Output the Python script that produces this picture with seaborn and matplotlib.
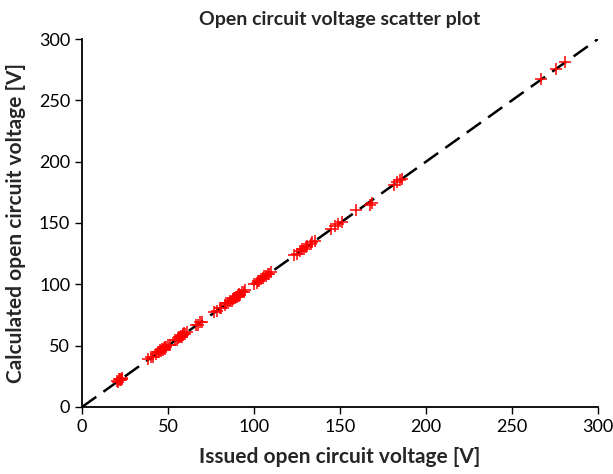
import matplotlib
matplotlib.use("Agg")
import matplotlib.pyplot as plt
import seaborn as sns
import pandas as pd

issued = [20.5, 21, 21.5, 22, 22.3, 22.8, 23, 23.5,
          38.5, 40, 41,
          43, 44, 45, 45.5, 46, 46.5, 47, 47.5, 48, 48.5, 49, 50, 51,
          54, 55, 56, 56.5, 57, 57.5, 58, 58.5, 59, 59.5, 60, 61,
          66.5, 67.5, 68.5, 70,
          77, 78.5, 80, 81,
          83, 84, 85, 86, 87, 88, 88.5, 89, 89.5, 90, 90.5, 91, 91.5, 92, 93, 94, 95,
          100, 101.5, 102.5, 103, 104, 105, 106, 107, 108, 109, 110,
          123.5, 125, 127, 128, 129, 130, 131, 133, 134, 135.5,
          145, 147, 149, 151,
          159.5,
          167.5, 168.5,
          181.5, 183, 185, 186,
          267, 275.5, 281]
calculated = [21.5, 20.5, 22.5, 21.8, 23, 22, 23.8, 22.8,
              38.8, 40.5, 40.6,
              43.5, 44.5, 44.6, 46.2, 45.8, 47, 46.5, 48.2, 47.6, 49, 48.7, 50.4, 50.5,
              54.6, 54.5, 56.4, 57.2, 56.8, 58, 57.4, 59.2, 58.6, 60, 59.5, 61.3,
              66.8, 67.2, 68.9, 69.6,
              77.6, 78.2, 80.6, 80.7,
              83.5, 84.4, 84.8, 86.4, 86.8, 88.3, 88.9, 88.8, 90, 89.7, 91, 90.8, 92, 91.7, 93.4, 93.8, 95.3,
              100.5, 101.2, 103, 102.7, 104.4, 104.8, 106.4, 106.8, 108.3, 108.8, 110.3,
              123.8, 124.8, 127.5, 128.4, 128.8, 130.5, 131.4, 132.8, 134.4, 135.7,
              145.4, 147.6, 148.8, 150.9,
              160.2,
              164.8, 166.5,
              181.2, 183.6, 184.8, 186.2,
              267.5, 275.3, 281.4]
diag = [0, 300]
ticks = [0, 50, 100, 150, 200, 250, 300]

sns.set_style("white")
plt.rcParams['font.family'] = ['Lato', 'DejaVu Sans']

df = pd.DataFrame({"issued": issued, "calculated": calculated})

fig = plt.figure(figsize=(6.13, 4.74), dpi=100)
ax = fig.add_axes([0.1338, 0.1414, 0.8417, 0.7763])

sns.lineplot(x=diag, y=diag, ax=ax, color="black", linewidth=1.8,
             dashes=False, linestyle=(0, (7, 3.5)), zorder=1)
sns.scatterplot(data=df, x="issued", y="calculated", ax=ax, marker="+",
                color="red", s=65, linewidth=1.1, zorder=2)

ax.set_xlim(0, 300)
ax.set_ylim(0, 300)
ax.set_xticks(ticks)
ax.set_yticks(ticks)
ax.tick_params(axis="both", direction="out", length=5, width=1, labelsize=13,
               bottom=True, left=True, colors="black")
for s in ["top", "right"]:
    ax.spines[s].set_visible(False)
for s in ["left", "bottom"]:
    ax.spines[s].set_color("black")
    ax.spines[s].set_linewidth(1.3)

ax.set_xlabel("Issued open circuit voltage [V]", fontsize=15, fontweight="bold", labelpad=9)
ax.set_ylabel("Calculated open circuit voltage [V]", fontsize=15, fontweight="bold", labelpad=9)
ax.set_title("Open circuit voltage scatter plot", fontsize=14, fontweight="bold", pad=10)

fig.savefig("out.png", dpi=100)
